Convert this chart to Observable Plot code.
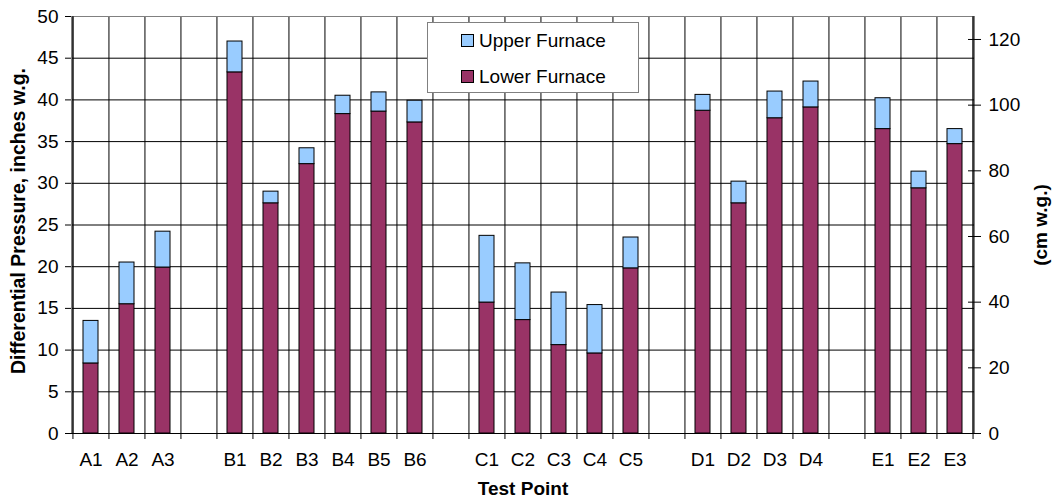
<!DOCTYPE html>
<html>
<head>
<meta charset="utf-8">
<script src="https://cdn.jsdelivr.net/npm/d3@7"></script>
<script src="https://cdn.jsdelivr.net/npm/@observablehq/plot@0.6"></script>
<style>
  body { margin: 0; background: #fff; font-family: "Liberation Sans", Arial, sans-serif; }
  #wrap { position: relative; width: 1052px; height: 502px; }
  #legend { position: absolute; left: 427px; top: 22px; width: 210px; height: 69px;
            border: 1px solid #808080; background: #fff; }
  .item { position: absolute; left: 33px; height: 13px; display: flex; align-items: center;
          font-size: 19px; color: #000; white-space: nowrap; }
  .sw { width: 11px; height: 11px; border: 1px solid #000; margin-right: 5px; flex: none; }
</style>
</head>
<body>
<div id="wrap"></div>
<script>
// Slots on the x axis (gaps are empty slots between groups)
const slots = ["A1","A2","A3","gap1","B1","B2","B3","B4","B5","B6","gap2",
               "C1","C2","C3","C4","C5","gap3","D1","D2","D3","D4","gap4","E1","E2","E3"];
const points = ["A1","A2","A3","B1","B2","B3","B4","B5","B6",
                "C1","C2","C3","C4","C5","D1","D2","D3","D4","E1","E2","E3"];
const lowerFurnace = [8.4,15.5,19.9, 43.3,27.6,32.3,38.3,38.6,37.3,
                      15.7,13.6,10.6,9.6,19.8, 38.7,27.6,37.8,39.1, 36.5,29.4,34.7];
const upperFurnace = [5.1,5.0,4.3, 3.7,1.4,1.9,2.2,2.3,2.6,
                      8.0,6.8,6.3,5.8,3.7, 1.9,2.6,3.2,3.1, 3.7,2.0,1.8];
const seriesNames = ["Lower Furnace","Upper Furnace"];
const seriesColors = ["#993366","#99CCFF"];
const yTicks = [0,5,10,15,20,25,30,35,40,45,50];
const cmTicks = [0,20,40,60,80,100,120];
const yTitle = "Differential Pressure, inches w.g.";
const y2Title = "(cm w.g.)";
const xTitle = "Test Point";

const rows = [];
points.forEach((p, i) => {
  rows.push({point: p, series: seriesNames[0], value: lowerFurnace[i]});
  rows.push({point: p, series: seriesNames[1], value: upperFurnace[i]});
});

const W = 1052, H = 502, mL = 71, mR = 78, mT = 16, mB = 69;
const step = (W - mL - mR) / slots.length;

const chart = Plot.plot({
  width: W, height: H,
  marginLeft: mL, marginRight: mR, marginTop: mT, marginBottom: mB,
  style: {fontFamily: '"Liberation Sans", Arial, sans-serif', fontSize: "19px", color: "#000", background: "#fff"},
  x: {type: "band", domain: slots, paddingInner: 0.58, paddingOuter: 0.29},
  y: {domain: [0, 50]},
  color: {domain: seriesNames, range: seriesColors},
  marks: [
    Plot.ruleY(yTicks, {stroke: "#000", strokeWidth: 1}),
    Plot.ruleX(slots, {x: d => d, dx: -step / 2, stroke: "#000", strokeWidth: 1}),
    Plot.ruleX([slots[slots.length - 1]], {x: d => d, dx: step / 2, stroke: "#000"}),
    Plot.frame({stroke: "#808080"}),
    Plot.ruleX(slots, {x: d => d, dx: -step / 2, y1: 0, y2: 0, insetBottom: -6, stroke: "#000"}),
    Plot.ruleX([slots[slots.length - 1]], {x: d => d, dx: step / 2, y1: 0, y2: 0, insetBottom: -6, stroke: "#000"}),
    Plot.ruleX([slots[0]], {x: d => d, dx: -step / 2, stroke: "#000"}),
    Plot.ruleX([slots[slots.length - 1]], {x: d => d, dx: step / 2, stroke: "#000"}),
    Plot.ruleY([0], {stroke: "#000"}),
    Plot.barY(rows, {x: "point", y: "value", fill: "series", order: seriesNames,
                     stroke: "#000", strokeWidth: 1}),
    Plot.axisX({tickSize: 0, tickPadding: 19, tickFormat: d => d.startsWith("gap") ? "" : d,
                fontSize: 19, label: null}),
    Plot.axisY({anchor: "left", ticks: yTicks, tickSize: 6, tickPadding: 7, fontSize: 19, label: null}),
    Plot.axisY({anchor: "right", ticks: cmTicks.map(c => c / 2.54),
                tickFormat: d => Math.round(d * 2.54), tickSize: 13, dx: -7, tickPadding: 8,
                fontSize: 19, label: null}),
    Plot.text([yTitle], {frameAnchor: "left", textAnchor: "middle", rotate: -90, dx: -53, dy: -4,
                         fontWeight: "bold", fontSize: 19.5}),
    Plot.text([y2Title], {frameAnchor: "right", textAnchor: "middle", rotate: -90, dx: 66,
                          fontWeight: "bold", fontSize: 19}),
    Plot.text([xTitle], {frameAnchor: "bottom", dy: 61, fontWeight: "bold", fontSize: 19})
  ]
});

const wrap = document.getElementById("wrap");
wrap.appendChild(chart);

const legend = document.createElement("div");
legend.id = "legend";
const legendOrder = [1, 0];
const tops = [11, 47];
legendOrder.forEach((si, k) => {
  const item = document.createElement("div");
  item.className = "item";
  item.style.top = tops[k] + "px";
  const sw = document.createElement("span");
  sw.className = "sw";
  sw.style.background = seriesColors[si];
  const label = document.createElement("span");
  label.textContent = seriesNames[si];
  item.appendChild(sw);
  item.appendChild(label);
  legend.appendChild(item);
});
wrap.appendChild(legend);
</script>
</body>
</html>
